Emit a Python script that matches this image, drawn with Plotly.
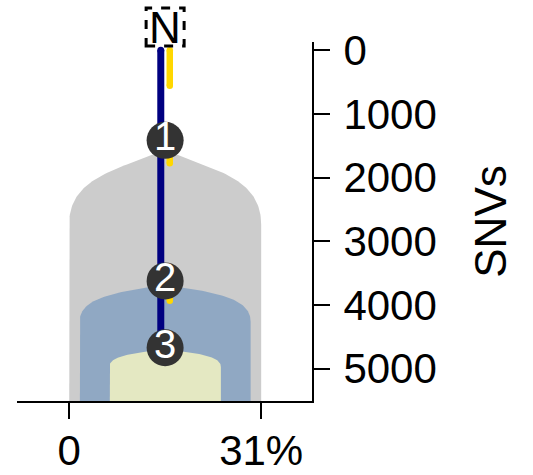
import numpy as np
import plotly.graph_objects as go

# ---------------- data ----------------
x_tickvals = [0, 31]
x_ticktext = ["0", "31%"]
y_tickvals = [0, 1000, 2000, 3000, 4000, 5000]
y_title = "SNVs"

clone_center = 15.5                      # % (x of the tree trunk)
clone_labels = ["1", "2", "3"]
clone_apex = [1564, 3687, 4693]          # SNVs where each clone shape starts
clone_shoulder = [2744, 4269, 4976]      # SNVs where the sides become vertical
clone_halfwidth = [15.5, 13.8, 9.0]      # % half width of each clone

node_labels = ["N", "1", "2", "3"]
node_snvs = [0, 1415, 3624, 4673]

trunk_start = [0]
trunk_end = [4673]

branch_start = [0, 1415, 3624]
branch_end = [558, 1775, 3934]

# ---------------- style ----------------
FONT = "Liberation Sans, Arial, sans-serif"
FS = 42
clone_fill = ["#cccccc", "#90a8c3", "#e4e8c2"]
clone_curve = [(0.60, 0.573, 0.29), (0.59, 0.70, 0.22), (0.55, 0.72, 0.28)]
trunk_color = "#000080"
branch_color = "#ffd700"
node_color = "#333333"
trunk_dx = -0.7
branch_dx = 0.75
bottom_extent = 7000

fig = go.Figure()


def bezier(p0, p1, p2, p3, n=60):
    t = np.linspace(0, 1, n)[:, None]
    pts = ((1 - t) ** 3) * p0 + 3 * ((1 - t) ** 2) * t * p1 + 3 * (1 - t) * t ** 2 * p2 + t ** 3 * p3
    return pts[:, 0], pts[:, 1]


for top, sh, w, col, (a, b, d) in zip(clone_apex, clone_shoulder, clone_halfwidth, clone_fill, clone_curve):
    c = clone_center
    H = sh - top
    p0 = np.array([c - w, sh])
    p1 = np.array([c - w, sh - a * H])
    p2 = np.array([c - b * w, top + d * H])
    p3 = np.array([c, top])
    lx, ly = bezier(p0, p1, p2, p3)
    rx = 2 * c - lx[::-1]
    ry = ly[::-1]
    xs = np.concatenate([[c - w], lx, rx[1:], [c + w]])
    ys = np.concatenate([[bottom_extent], ly, ry[1:], [bottom_extent]])
    fig.add_trace(go.Scatter(x=xs, y=ys, mode="lines", fill="toself", fillcolor=col,
                             line=dict(width=0, color=col), hoverinfo="skip", showlegend=False))

# trunk (blue)
tx, ty = [], []
for s, e in zip(trunk_start, trunk_end):
    tx += [clone_center + trunk_dx] * 2 + [None]
    ty += [s, e, None]
fig.add_trace(go.Scatter(x=tx, y=ty, mode="lines+markers",
                         line=dict(color=trunk_color, width=7),
                         marker=dict(color=trunk_color, size=7),
                         hoverinfo="skip", showlegend=False, cliponaxis=False))

# branches (yellow)
bx, by = [], []
for s, e in zip(branch_start, branch_end):
    bx += [clone_center + branch_dx] * 2 + [None]
    by += [s, e, None]
fig.add_trace(go.Scatter(x=bx, y=by, mode="lines+markers",
                         line=dict(color=branch_color, width=6.5),
                         marker=dict(color=branch_color, size=6.5),
                         hoverinfo="skip", showlegend=False, cliponaxis=False))

# numbered nodes
fig.add_trace(go.Scatter(x=[clone_center] * (len(node_labels) - 1), y=node_snvs[1:],
                         mode="markers+text", text=node_labels[1:],
                         textposition="middle center",
                         textfont=dict(family=FONT, size=40, color="white"),
                         marker=dict(color=node_color, size=37, line=dict(width=0)),
                         hoverinfo="skip", showlegend=False, cliponaxis=False))

# N (normal) node
fig.add_annotation(x=clone_center, y=node_snvs[0], text=node_labels[0], showarrow=False,
                   yshift=23, font=dict(family=FONT, size=44, color="black"))
fig.add_shape(type="rect", xref="x", yref="paper", xsizemode="pixel", ysizemode="pixel",
              xanchor=clone_center, yanchor=1, x0=-19, x1=19, y0=-4, y1=34,
              line=dict(color="black", width=3, dash="dash"), fillcolor="rgba(0,0,0,0)")

axis_common = dict(showline=True, linecolor="black", linewidth=2,
                   ticks="outside", ticklen=16, tickwidth=2, tickcolor="black",
                   showgrid=False, zeroline=False, automargin=False,
                   tickfont=dict(size=FS, family=FONT, color="black"))

fig.update_layout(
    width=533, height=475,
    margin=dict(l=17, r=221, t=42, b=74),
    paper_bgcolor="white", plot_bgcolor="white",
    font=dict(family=FONT, color="black"),
    showlegend=False,
    xaxis=dict(range=[-8.4, 39.2], tickvals=x_tickvals, ticktext=x_ticktext,
               ticklabelstandoff=-4, **axis_common),
    yaxis=dict(range=[5510, -130], tickvals=y_tickvals, side="right", ticklabelstandoff=5,
               title=dict(text=y_title, font=dict(size=44, family=FONT, color="black"), standoff=39),
               **axis_common),
)

fig.write_html("out.html", config={"displayModeBar": False},
               post_script="document.body.style.margin='0px';document.body.style.overflow='hidden';")
